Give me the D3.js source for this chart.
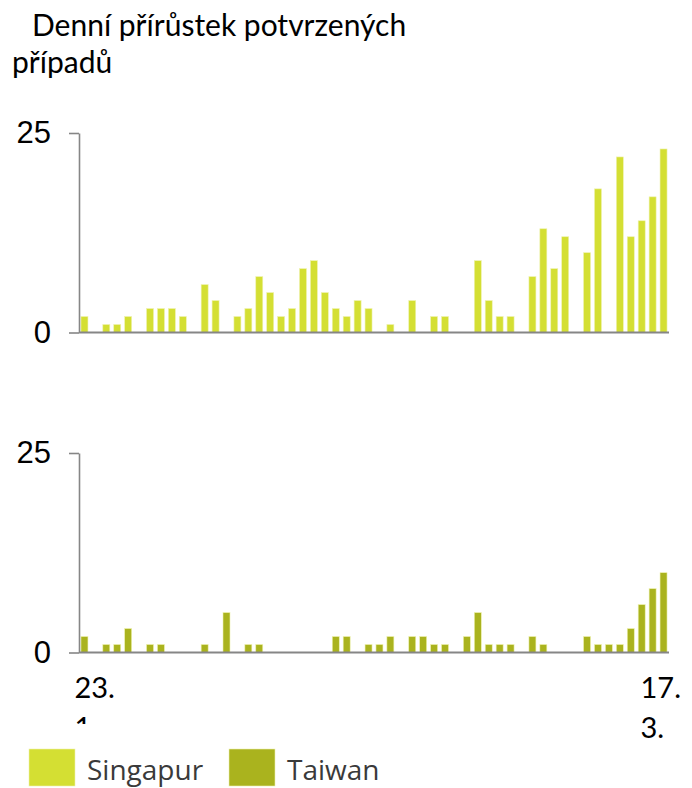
<!DOCTYPE html>
<html>
<head>
<meta charset="utf-8">
<script src="https://cdn.jsdelivr.net/npm/d3@7"></script>
<style>
  html, body { margin: 0; padding: 0; background: #fff; }
  svg { display: block; }
</style>
</head>
<body>
<script>
// ---- data ----
const days = d3.range(54); // 54 daily categories, 23. 1. ... 17. 3.
const tickLabels = [["23.", "1."], ["17.", "3."]];
const singapur = [2,0,1,1,2,0,3,3,3,2,0,6,4,0,2,3,7,5,2,3,8,9,5,3,2,4,3,0,1,0,4,0,2,2,0,0,9,4,2,2,0,7,13,8,12,0,10,18,0,22,12,14,17,23];
const taiwan   = [2,0,1,1,3,0,1,1,0,0,0,1,0,5,0,1,1,0,0,0,0,0,0,2,2,0,1,1,2,0,2,2,1,1,0,2,5,1,1,1,0,2,1,0,0,0,2,1,1,1,3,6,8,10];
const yTicks = [0, 25];
const seriesNames = ["Singapur", "Taiwan"];
const colors = ["#d4df33", "#aab31e"];
const title = ["Denní přírůstek potvrzených", "případů"];

const W = 692, H = 788;
const svg = d3.select("body").append("svg").attr("width", W).attr("height", H);

const x = d3.scaleBand().domain(days).range([79, 669]).paddingInner(0.36).paddingOuter(0.18);

const panels = [
  { data: singapur, color: colors[0], y: d3.scaleLinear().domain([0, 25]).range([332.5, 133]) },
  { data: taiwan,   color: colors[1], y: d3.scaleLinear().domain([0, 25]).range([652.5, 453]) }
];

const axisColor = "#868686";

panels.forEach(p => {
  const g = svg.append("g");
  g.selectAll("rect.bar").data(p.data).join("rect")
    .attr("class", "bar")
    .attr("x", (d, i) => x(days[i]))
    .attr("width", x.bandwidth())
    .attr("y", d => p.y(d))
    .attr("height", d => p.y(0) - p.y(d))
    .attr("fill", p.color)
    .attr("stroke", "#eef2b0")
    .attr("stroke-width", 0.6);

  const ax = g.append("g").attr("transform", `translate(79,0)`)
    .call(d3.axisLeft(p.y).tickValues(yTicks).tickSize(10).tickPadding(18).tickSizeOuter(0));
  ax.select(".domain").attr("stroke", axisColor).attr("stroke-width", 1.6);
  ax.selectAll(".tick line").attr("stroke", axisColor).attr("stroke-width", 1.6);
  ax.selectAll(".tick text")
    .attr("font-family", "'Liberation Sans', Arial, sans-serif")
    .attr("font-size", 31).attr("fill", "#000");

  g.append("line")
    .attr("x1", 79).attr("x2", x.range()[1])
    .attr("y1", p.y(0)).attr("y2", p.y(0))
    .attr("stroke", axisColor).attr("stroke-width", 1.8);
});

// x labels (first and last day)
const xl = svg.append("g")
  .attr("font-family", "Lato, 'Open Sans', sans-serif")
  .attr("font-size", 29).attr("fill", "#000");
const labelShift = [-10, -23];
[[days[0], tickLabels[0]], [days[days.length - 1], tickLabels[1]]].forEach(([d, lab], i) => {
  const cx = x(d) + x.bandwidth() / 2 + labelShift[i];
  const t = xl.append("text").attr("x", cx).attr("y", 698);
  t.append("tspan").attr("x", cx).attr("dy", 0).text(lab[0]);
  t.append("tspan").attr("x", cx).attr("dy", 40).text(lab[1]);
});

// title
const tt = svg.append("g")
  .attr("font-family", "Lato, 'Open Sans', sans-serif")
  .attr("font-size", 30).attr("fill", "#000");
tt.append("text").attr("x", 32).attr("y", 36).text(title[0]);
tt.append("text").attr("x", 12).attr("y", 73).text(title[1]);

// legend (white background covers the clipped label)
const lg = svg.append("g");
lg.append("rect").attr("x", 0).attr("y", 724).attr("width", 420).attr("height", 64).attr("fill", "#fff");
const legendX = [29, 229];
seriesNames.forEach((n, i) => {
  lg.append("rect").attr("x", legendX[i]).attr("y", 749).attr("width", 46).attr("height", 37)
    .attr("fill", colors[i]).attr("stroke", "#eef2b0").attr("stroke-width", 0.6);
  lg.append("text").attr("x", legendX[i] + 58).attr("y", 780)
    .attr("font-family", "'Open Sans', sans-serif").attr("font-size", 28)
    .attr("fill", "#3a3a3a").text(n);
});
</script>
</body>
</html>
